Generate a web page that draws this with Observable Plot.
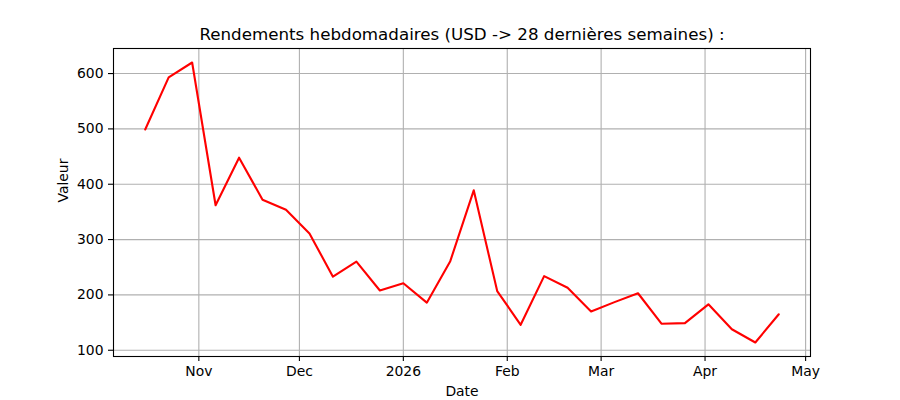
<!DOCTYPE html>
<html><head><meta charset="utf-8">
<script src="https://cdn.jsdelivr.net/npm/d3@7"></script>
<script src="https://cdn.jsdelivr.net/npm/@observablehq/plot@0.6"></script>
<style>body{margin:0;background:#fff;}</style>
</head><body><div id="chart"></div>
<script>
const dates = ["2025-10-16","2025-10-23","2025-10-30","2025-11-06","2025-11-13","2025-11-20","2025-11-27","2025-12-04","2025-12-11","2025-12-18","2025-12-25","2026-01-01","2026-01-08","2026-01-15","2026-01-22","2026-01-29","2026-02-05","2026-02-12","2026-02-19","2026-02-26","2026-03-05","2026-03-12","2026-03-19","2026-03-26","2026-04-02","2026-04-09","2026-04-16","2026-04-23"];
const values = [499,593,620,362,448,372,354,311,233,260,208,221,186,261,389,207,146,234,213,170,187,203,148,149,183,138,114,165];
const xTickDates = ["2025-11-01","2025-12-01","2026-01-01","2026-02-01","2026-03-01","2026-04-01","2026-05-01"];
const xTickLabels = ["Nov","Dec","2026","Feb","Mar","Apr","May"];
const yTicks = [100,200,300,400,500,600];
const title = "Rendements hebdomadaires (USD -> 28 dernières semaines) :";
const xLabel = "Date";
const yLabel = "Valeur";

const data = dates.map((d, i) => ({date: new Date(d), value: values[i]}));
const xt = xTickDates.map(d => new Date(d));
const labelOf = new Map(xt.map((d, i) => [+d, xTickLabels[i]]));
const grid = {stroke: "#b0b0b0", strokeOpacity: 1, strokeWidth: 1.1};

const chart = Plot.plot({
  width: 900, height: 400,
  marginLeft: 113, marginRight: 90, marginTop: 48, marginBottom: 44,
  style: {fontFamily: "DejaVu Sans", fontSize: "13.9px", background: "#fff", color: "#000"},
  x: {type: "utc", domain: [new Date(Date.UTC(2025, 9, 6, 13)), new Date(Date.UTC(2026, 4, 2, 11))]},
  y: {domain: [88.7, 645.3]},
  marks: [
    Plot.gridX(xt, grid),
    Plot.gridY(yTicks, grid),
    Plot.axisX(xt, {tickSize: 5, tickPadding: 5, tickFormat: d => labelOf.get(+d), label: null, fontSize: 13.9, strokeWidth: 1.1}),
    Plot.axisY(yTicks, {tickSize: 5, tickPadding: 5, label: null, fontSize: 13.9, strokeWidth: 1.1}),
    Plot.line(data, {x: "date", y: "value", stroke: "red", strokeWidth: 2.1}),
    Plot.frame({stroke: "black", strokeWidth: 1.1}),
    Plot.text([title], {frameAnchor: "top", dy: -14, fontSize: 16.7, lineAnchor: "middle"}),
    Plot.text([xLabel], {frameAnchor: "bottom", dy: 35, fontSize: 13.9, lineAnchor: "middle"}),
    Plot.text([yLabel], {frameAnchor: "left", dx: -50, rotate: -90, fontSize: 13.9, lineAnchor: "middle"})
  ]
});
document.getElementById("chart").append(chart);
</script>
</body></html>
